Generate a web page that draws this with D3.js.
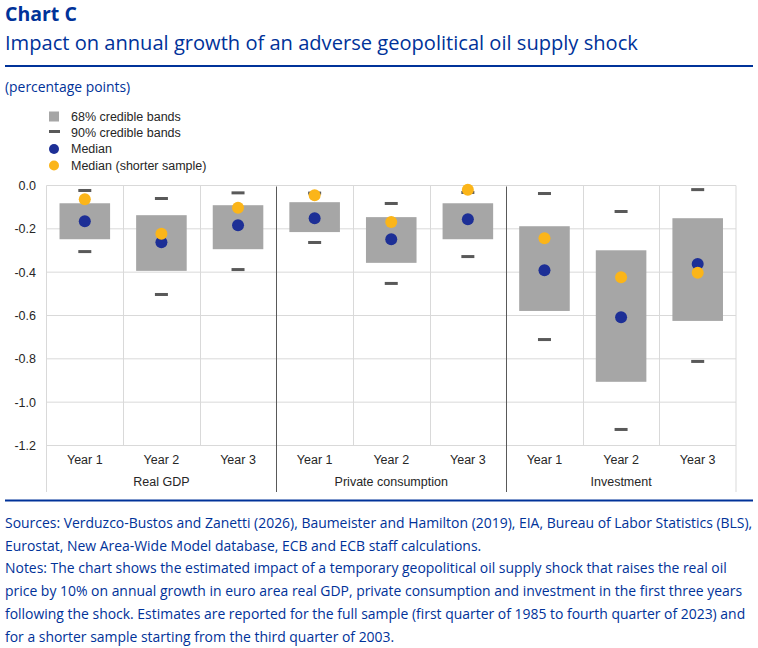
<!DOCTYPE html>
<html>
<head>
<meta charset="utf-8">
<script src="https://cdn.jsdelivr.net/npm/d3@7"></script>
<style>
  html, body { margin: 0; padding: 0; background: #fff; }
  svg { display: block; }
</style>
</head>
<body>
<script>
// ---- Data ----
const groups = ["Real GDP", "Private consumption", "Investment"];
const years = ["Year 1", "Year 2", "Year 3"];
const band68Low  = [-0.248, -0.394, -0.294, -0.215, -0.357, -0.248, -0.579, -0.906, -0.625];
const band68High = [-0.082, -0.137, -0.091, -0.077, -0.146, -0.082, -0.188, -0.299, -0.151];
const band90Low  = [-0.305, -0.503, -0.388, -0.263, -0.452, -0.328, -0.711, -1.126, -0.812];
const band90High = [-0.023, -0.060, -0.034, -0.035, -0.083, -0.032, -0.037, -0.120, -0.019];
const median      = [-0.165, -0.262, -0.183, -0.151, -0.248, -0.156, -0.391, -0.608, -0.362];
const medianShort = [-0.063, -0.223, -0.103, -0.045, -0.169, -0.020, -0.243, -0.423, -0.403];
const yTicks = [0.0, -0.2, -0.4, -0.6, -0.8, -1.0, -1.2];
const legendItems = ["68% credible bands", "90% credible bands", "Median", "Median (shorter sample)"];

const title = "Chart C";
const subtitle = "Impact on annual growth of an adverse geopolitical oil supply shock";
const unit = "(percentage points)";
const footer = [
  "Sources: Verduzco-Bustos and Zanetti (2026), Baumeister and Hamilton (2019), EIA, Bureau of Labor Statistics (BLS),",
  "Eurostat, New Area-Wide Model database, ECB and ECB staff calculations.",
  "Notes: The chart shows the estimated impact of a temporary geopolitical oil supply shock that raises the real oil",
  "price by 10% on annual growth in euro area real GDP, private consumption and investment in the first three years",
  "following the shock. Estimates are reported for the full sample (first quarter of 1985 to fourth quarter of 2023) and",
  "for a shorter sample starting from the third quarter of 2003."
];

// ---- Styles ----
const W = 758, H = 648;
const BLUE = "#003299";
const C_BAR = "#a6a6a6", C_DASH = "#595959", C_MED = "#1d2f96", C_SHORT = "#fbb519";
const C_GRID = "#d9d9d9", C_SEP = "#595959", C_TEXT = "#262626";
const chartFont = "'Liberation Sans', Arial, sans-serif";
const textFont = "'Open Sans', 'Noto Sans', sans-serif";

const plot = { left: 46.5, right: 736, top: 185.5, bottom: 445.5 };

const svg = d3.select("body").append("svg").attr("width", W).attr("height", H);

// ---- Header ----
svg.append("text").attr("x", 5).attr("y", 21).text(title)
  .attr("font-family", textFont).attr("font-weight", 700).attr("font-size", 19.5).attr("fill", BLUE);
svg.append("text").attr("x", 5).attr("y", 50).text(subtitle)
  .attr("font-family", textFont).attr("font-size", 20.1).attr("fill", BLUE);
svg.append("line").attr("x1", 5).attr("x2", 753).attr("y1", 66).attr("y2", 66)
  .attr("stroke", BLUE).attr("stroke-width", 2);
svg.append("text").attr("x", 5).attr("y", 92).text(unit)
  .attr("font-family", textFont).attr("font-size", 13.9).attr("fill", BLUE);

// ---- Scales ----
const keys = [];
groups.forEach(g => years.forEach(y => keys.push(g + "|" + y)));
const x0 = d3.scaleBand().domain(groups).range([plot.left, plot.right]).padding(0);
const x1 = d3.scaleBand().domain(years).range([0, x0.bandwidth()]).padding(0);
const xc = i => x0(groups[Math.floor(i / 3)]) + x1(years[i % 3]) + x1.bandwidth() / 2;
const y = d3.scaleLinear().domain([-1.2, 0]).range([plot.bottom, plot.top]);

// ---- Grid ----
const g = svg.append("g");
g.selectAll(".hgrid").data(yTicks).join("line")
  .attr("x1", plot.left).attr("x2", plot.right)
  .attr("y1", d => y(d)).attr("y2", d => y(d))
  .attr("stroke", C_GRID).attr("stroke-width", 1);
const minorX = [];
groups.forEach(gr => years.slice(1).forEach(yr => minorX.push(x0(gr) + x1(yr))));
g.selectAll(".vgrid").data(minorX).join("line")
  .attr("x1", d => Math.round(d) + 0.5).attr("x2", d => Math.round(d) + 0.5)
  .attr("y1", plot.top).attr("y2", plot.bottom)
  .attr("stroke", C_GRID).attr("stroke-width", 1);
[plot.left, plot.right].forEach(xv => {
  g.append("line").attr("x1", xv).attr("x2", xv).attr("y1", plot.top).attr("y2", 492)
    .attr("stroke", C_GRID).attr("stroke-width", 1);
});
const sepX = groups.slice(1).map(gr => x0(gr));
g.selectAll(".sep").data(sepX).join("line")
  .attr("x1", d => Math.round(d) + 0.5).attr("x2", d => Math.round(d) + 0.5)
  .attr("y1", plot.top + 1).attr("y2", 492)
  .attr("stroke", C_SEP).attr("stroke-width", 1);

// ---- Y axis labels ----
svg.append("g").selectAll("text").data(yTicks).join("text")
  .attr("x", 36).attr("y", d => y(d)).attr("dy", "0.35em")
  .attr("text-anchor", "end").text(d => d3.format(".1f")(d).replace("−", "-"))
  .attr("font-family", chartFont).attr("font-size", 12.5).attr("fill", C_TEXT);

// ---- X axis labels ----
svg.append("g").selectAll("text").data(keys).join("text")
  .attr("x", (d, i) => xc(i)).attr("y", 464).attr("text-anchor", "middle")
  .text(d => d.split("|")[1])
  .attr("font-family", chartFont).attr("font-size", 12.5).attr("fill", C_TEXT);
svg.append("g").selectAll("text").data(groups).join("text")
  .attr("x", d => x0(d) + x0.bandwidth() / 2).attr("y", 486).attr("text-anchor", "middle")
  .text(d => d)
  .attr("font-family", chartFont).attr("font-size", 12.5).attr("fill", C_TEXT);

// ---- Marks ----
const barW = x1.bandwidth() * 0.66;
const marks = svg.append("g");
marks.selectAll(".bar").data(keys).join("rect")
  .attr("x", (d, i) => xc(i) - barW / 2).attr("width", barW)
  .attr("y", (d, i) => y(band68High[i]))
  .attr("height", (d, i) => y(band68Low[i]) - y(band68High[i]))
  .attr("fill", C_BAR);
const dashW = 13, dashH = 3;
[band90High, band90Low].forEach(arr => {
  marks.append("g").selectAll("rect").data(keys).join("rect")
    .attr("x", (d, i) => xc(i) - dashW / 2).attr("width", dashW)
    .attr("y", (d, i) => y(arr[i]) - dashH / 2).attr("height", dashH)
    .attr("fill", C_DASH);
});
marks.append("g").selectAll("circle").data(keys).join("circle")
  .attr("cx", (d, i) => xc(i)).attr("cy", (d, i) => y(median[i])).attr("r", 6)
  .attr("fill", C_MED);
marks.append("g").selectAll("circle").data(keys).join("circle")
  .attr("cx", (d, i) => xc(i)).attr("cy", (d, i) => y(medianShort[i])).attr("r", 6)
  .attr("fill", C_SHORT);

// ---- Legend ----
const lg = svg.append("g");
const legY = [116.5, 132.5, 149, 165.5];
legendItems.forEach((t, i) => {
  const cy = legY[i];
  if (i === 0) lg.append("rect").attr("x", 49).attr("y", cy - 5).attr("width", 10).attr("height", 10).attr("fill", C_BAR);
  if (i === 1) lg.append("rect").attr("x", 49).attr("y", cy - 2.5).attr("width", 11).attr("height", 3).attr("fill", C_DASH);
  if (i === 2) lg.append("circle").attr("cx", 54).attr("cy", cy).attr("r", 5).attr("fill", C_MED);
  if (i === 3) lg.append("circle").attr("cx", 54).attr("cy", cy).attr("r", 5).attr("fill", C_SHORT);
  lg.append("text").attr("x", 71).attr("y", cy).attr("dy", "0.35em").text(t)
    .attr("font-family", chartFont).attr("font-size", 12.5).attr("fill", C_TEXT);
});

// ---- Footer ----
svg.append("line").attr("x1", 5).attr("x2", 753).attr("y1", 500.5).attr("y2", 500.5)
  .attr("stroke", BLUE).attr("stroke-width", 2);
svg.append("g").selectAll("text").data(footer).join("text")
  .attr("x", 5).attr("y", (d, i) => 528 + i * 22.7).text(d => d)
  .attr("font-family", textFont).attr("font-size", 13.95).attr("fill", BLUE);
</script>
</body>
</html>
